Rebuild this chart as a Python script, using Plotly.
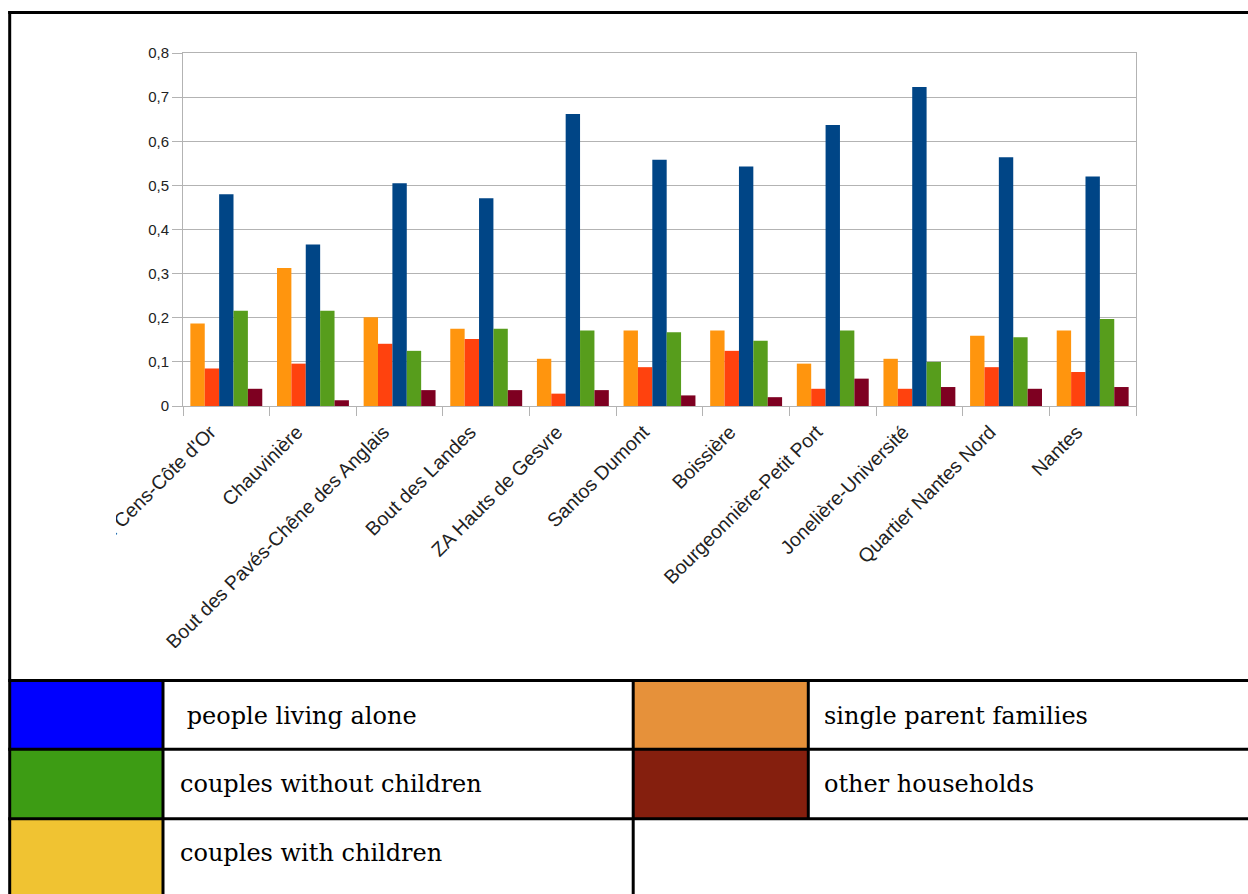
import plotly.graph_objects as go

# ---------------- data ----------------
categories = [
    "Val du Cens-Côte d'Or", "Chauvinière", "Bout des Pavés-Chêne des Anglais",
    "Bout des Landes", "ZA Hauts de Gesvre", "Santos Dumont", "Boissière",
    "Bourgeonnière-Petit Port", "Jonelière-Université", "Quartier Nantes Nord", "Nantes",
]
series_names = ["couples with children", "single parent families", "people living alone",
                "couples without children", "other households"]
s_orange = [0.187, 0.313, 0.201, 0.175, 0.107, 0.171, 0.171, 0.096, 0.107, 0.159, 0.171]
s_red    = [0.085, 0.096, 0.141, 0.152, 0.028, 0.088, 0.125, 0.039, 0.039, 0.088, 0.077]
s_blue   = [0.480, 0.366, 0.505, 0.471, 0.662, 0.558, 0.543, 0.637, 0.723, 0.564, 0.520]
s_green  = [0.216, 0.216, 0.125, 0.175, 0.171, 0.167, 0.148, 0.171, 0.100, 0.156, 0.197]
s_maroon = [0.039, 0.013, 0.036, 0.036, 0.036, 0.024, 0.020, 0.062, 0.043, 0.039, 0.043]
bar_colors = ["#ff950e", "#ff420e", "#004586", "#579d1c", "#7e0021"]

legend_labels = ["people living alone", "single parent families", "couples without children",
                 "other households", "couples with children"]
legend_colors = ["#0000FF", "#E6913A", "#3D9C14", "#851F0E", "#F0C332"]

# ---------------- figure ----------------
W, H = 1248, 894
ML, MR, MT, MB = 183, 112, 53, 488
PW, PH = W - ML - MR, H - MT - MB


def px(x):
    return (x - ML) / PW


def py(y):
    return (H - MB - y) / PH


fig = go.Figure()
for name, vals, col in zip(series_names, [s_orange, s_red, s_blue, s_green, s_maroon], bar_colors):
    fig.add_trace(go.Bar(x=categories, y=vals, name=name, marker=dict(color=col, line=dict(width=0)),
                         showlegend=False))

grid = "#b3b3b3"
fig.update_layout(
    width=W, height=H, autosize=False,
    margin=dict(l=ML, r=MR, t=MT, b=MB, pad=0),
    paper_bgcolor="white", plot_bgcolor="white",
    barmode="group", bargap=0.17, bargroupgap=0,
    separators=", ",
    font=dict(family="Liberation Sans, Arial, sans-serif", color="#222"),
    xaxis=dict(type="category", tickson="boundaries", ticks="outside", ticklen=9,
               tickcolor=grid, tickwidth=1, showline=True, linecolor=grid, linewidth=1,
               mirror=True, tickangle=-45, tickfont=dict(size=19.5, color="#222"),
               ticklabelstandoff=6, ticklabelshift=-16,
               showgrid=False),
    yaxis=dict(range=[0, 0.8], dtick=0.1, ticks="outside", ticklen=10, tickcolor=grid,
               showline=True, linecolor=grid, linewidth=1, mirror=True,
               gridcolor=grid, gridwidth=1, tickfont=dict(size=15, color="#222"),
               zeroline=False),
)

shapes = []
# clip covers (chart image edges)
shapes.append(dict(type="rect", xref="paper", yref="paper", layer="above",
                   x0=px(12), x1=px(116), y0=py(410), y1=py(678.5),
                   fillcolor="white", line=dict(width=0)))
shapes.append(dict(type="rect", xref="paper", yref="paper", layer="above",
                   x0=px(12), x1=px(1248), y0=py(648), y1=py(678.5),
                   fillcolor="white", line=dict(width=0)))

xL, xa, xb, xc = 9.7, 163, 633.2, 808.3
ytop, y1, y2, y3 = 12.5, 680.5, 749.3, 818.7
cells = [
    (xL, xa, y1, y2, legend_colors[0]),
    (xb, xc, y1, y2, legend_colors[1]),
    (xL, xa, y2, y3, legend_colors[2]),
    (xb, xc, y2, y3, legend_colors[3]),
    (xL, xa, y3, 896, legend_colors[4]),
]
for x0, x1, a, b, c in cells:
    shapes.append(dict(type="rect", xref="paper", yref="paper", layer="above",
                       x0=px(x0), x1=px(x1), y0=py(b), y1=py(a),
                       fillcolor=c, line=dict(width=0)))


def hline(y, x0, x1):
    shapes.append(dict(type="line", xref="paper", yref="paper", layer="above",
                       x0=px(x0), x1=px(x1), y0=py(y), y1=py(y),
                       line=dict(color="black", width=3)))


def vline(x, y0, y1):
    shapes.append(dict(type="line", xref="paper", yref="paper", layer="above",
                       x0=px(x), x1=px(x), y0=py(y0), y1=py(y1),
                       line=dict(color="black", width=3)))


hline(ytop, 8.2, 1250)
vline(xL, 11, 896)
hline(y1, 8.2, 1250)
hline(y2, 8.2, 1250)
hline(y3, 8.2, 1250)
vline(xa, y1, 896)
vline(xb, y1, 896)
vline(xc, y1, y3)

fig.update_layout(shapes=shapes)

texts = [
    (" " + legend_labels[0], 177, 716),
    (legend_labels[1], 822, 716),
    (legend_labels[2], 178, 784),
    (legend_labels[3], 822, 784),
    (legend_labels[4], 178, 853),
]
for t, x, y in texts:
    fig.add_annotation(text=t, xref="paper", yref="paper", x=px(x), y=py(y),
                       xanchor="left", yanchor="middle", showarrow=False,
                       font=dict(family="DejaVu Serif, serif", size=24, color="black"))

fig.write_html("out.html", config={"displayModeBar": False},
               post_script="document.body.style.margin='0';document.body.style.overflow='hidden';")
